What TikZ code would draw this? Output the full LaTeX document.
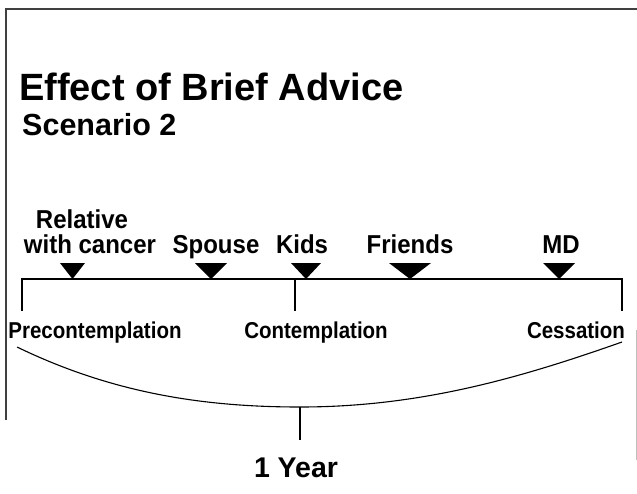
\documentclass[tikz,border=0pt]{standalone}
\usepackage{fontspec}
\setmainfont{Liberation Sans}
\newcommand{\tallA}[1]{\scalebox{1}[1.08]{#1}}
\newcommand{\tallB}[1]{\scalebox{1}[1.12]{#1}}
\begin{document}
\begin{tikzpicture}[x=1pt,y=-1pt,
  lbl/.style={font=\bfseries\fontsize{24}{26}\selectfont, anchor=base, inner sep=0},
  stage/.style={font=\bfseries\fontsize{20.5}{22}\selectfont, anchor=base, inner sep=0},
  marker/.style={fill=black},
  axis/.style={line width=1.1pt},
  frame/.style={line width=1.6pt, black!75}]
\useasboundingbox (0,0) rectangle (637,493);
% frame
\draw[frame] (6,420) -- (6,9) -- (637,9);
\draw[line width=0.8pt, black!25] (636,330) -- (636,460);
% titles
\node[anchor=base west, inner sep=0, font=\bfseries\fontsize{38}{40}\selectfont] (title) at (19,100) {Effect of Brief Advice};
\node[anchor=base west, inner sep=0, font=\bfseries\fontsize{30.5}{32}\selectfont] (scen) at (22,135) {Scenario 2};
% event labels
\node[lbl] (rel1) at (82,228) {\tallA{Relative}};
\node[lbl] (rel2) at (90,253) {\tallA{with cancer}};
\node[lbl] (spouse) at (216,253) {\tallA{Spouse}};
\node[lbl] (kids) at (302,253) {\tallA{Kids}};
\node[lbl] (friends) at (410,253) {\tallA{Friends}};
\node[lbl] (md) at (561,253) {\tallA{MD}};
% markers
\fill[marker] (60,263) -- (85,263) -- (72.5,279) -- cycle;
\fill[marker] (195,263) -- (227,263) -- (211,279) -- cycle;
\fill[marker] (291,263) -- (321,263) -- (306,279) -- cycle;
\fill[marker] (389,263) -- (431,263) -- (410,279) -- cycle;
\fill[marker] (543,263) -- (575,263) -- (559,279) -- cycle;
% axis
\coordinate (L) at (22,279);
\coordinate (M) at (295,279);
\coordinate (R) at (622,279);
\coordinate (Ld) at (22,311);
\coordinate (Md) at (295,311);
\coordinate (Rd) at (622,311);
\draw[axis] (Ld) -- (L) -- (R) -- (Rd);
\draw[axis] (M) -- (Md);
% stages
\node[stage] (pre) at (95,338) {\tallB{Precontemplation}};
\node[stage] (con) at (316,338) {\tallB{Contemplation}};
\node[stage] (ces) at (576,338) {\tallB{Cessation}};
% brace curve
\coordinate (cl) at (17,347);
\coordinate (cm) at (300,407);
\coordinate (cr) at (622,342);
\coordinate (tk) at (300,440);
\draw[axis] (cl) .. controls (110,392) and (200,407) .. (cm) .. controls (420,407) and (520,378) .. (cr);
\draw[axis] (cm) -- (tk);
\node[anchor=base, inner sep=0, font=\bfseries\fontsize{28.5}{30}\selectfont] (year) at (296,477) {1 Year};
\end{tikzpicture}
\end{document}
